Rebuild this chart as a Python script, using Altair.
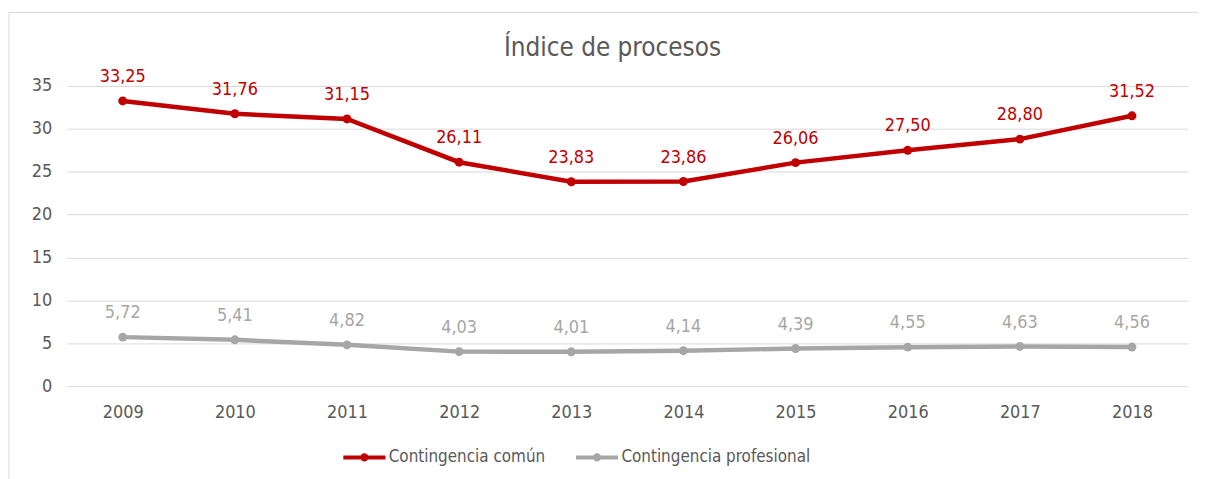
import altair as alt
import pandas as pd

years = ["2009", "2010", "2011", "2012", "2013", "2014", "2015", "2016", "2017", "2018"]
comun = [33.25, 31.76, 31.15, 26.11, 23.83, 23.86, 26.06, 27.50, 28.80, 31.52]
profesional = [5.72, 5.41, 4.82, 4.03, 4.01, 4.14, 4.39, 4.55, 4.63, 4.56]
series_names = ["Contingencia común", "Contingencia profesional"]
colors = ["#C00000", "#A6A6A6"]
label_colors = ["#B0101C", "#A6A6A6"]

rows = []
for name, vals in zip(series_names, [comun, profesional]):
    for y, v in zip(years, vals):
        rows.append({"Año": y, "Valor": v, "Serie": name,
                     "Etiqueta": f"{v:.2f}".replace(".", ",")})
df = pd.DataFrame(rows)

FONT = "DejaVu Sans Condensed, DejaVu Sans"
TXT = "#595959"
W, H = 1128, 302

scale = alt.Scale(domain=series_names, range=colors)
legend_symbol = "M-1,0H1M-0.1,0a0.1,0.1 0 1,0 0.2,0a0.1,0.1 0 1,0 -0.2,0"
color = alt.Color("Serie:N", scale=scale,
                  legend=alt.Legend(orient="none", legendX=276, legendY=350, direction="horizontal",
                                    title=None, symbolType=legend_symbol, symbolStrokeWidth=4,
                                    symbolSize=1800, labelFontSize=17, labelFont=FONT,
                                    labelColor=TXT, columnPadding=22, labelLimit=400,
                                    labelOffset=1))

x = alt.X("Año:O", scale=alt.Scale(type="point", padding=0.5),
          axis=alt.Axis(title=None, labelAngle=0, domain=False, ticks=False, labelPadding=17,
                        labelFontSize=18, labelFont=FONT, labelColor=TXT, grid=False))
y = alt.Y("Valor:Q", scale=alt.Scale(domain=[0, 35]),
          axis=alt.Axis(title=None, values=[0, 5, 10, 15, 20, 25, 30, 35], domain=False, ticks=False,
                        labelPadding=15, labelFontSize=18, labelFont=FONT, labelColor=TXT,
                        gridColor="#D9D9D9", gridWidth=1))

border = alt.Chart(pd.DataFrame({"a": [0]})).mark_rect(
    fill=None, stroke="#D9D9D9", strokeWidth=1).encode(
    x=alt.value(-58), x2=alt.value(W + 12), y=alt.value(-74), y2=alt.value(H + 120))

line = alt.Chart(df).mark_line(strokeWidth=4.5).encode(x=x, y=y, color=color)
pts = alt.Chart(df).mark_point(filled=True, size=80, opacity=1).encode(
    x=x, y=y, color=alt.Color("Serie:N", scale=scale, legend=None))
labels = alt.Chart(df).mark_text(baseline="bottom", dy=-15, fontSize=18, font=FONT).encode(
    x=x, y=y, text="Etiqueta:N",
    color=alt.Color("Serie:N", scale=alt.Scale(domain=series_names, range=label_colors), legend=None))

chart = alt.layer(border, line, pts, labels).properties(
    width=W, height=H,
    title=alt.TitleParams("Índice de procesos", fontSize=26, font=FONT, fontWeight="normal",
                          color=TXT, anchor="middle", offset=-49, dx=-15),
    autosize=alt.AutoSizeParams(type="none"),
    padding={"left": 59, "top": 77, "right": 10, "bottom": 100},
).configure_view(stroke=None)

chart.save("out.html", embed_options={"renderer": "svg", "actions": False})
